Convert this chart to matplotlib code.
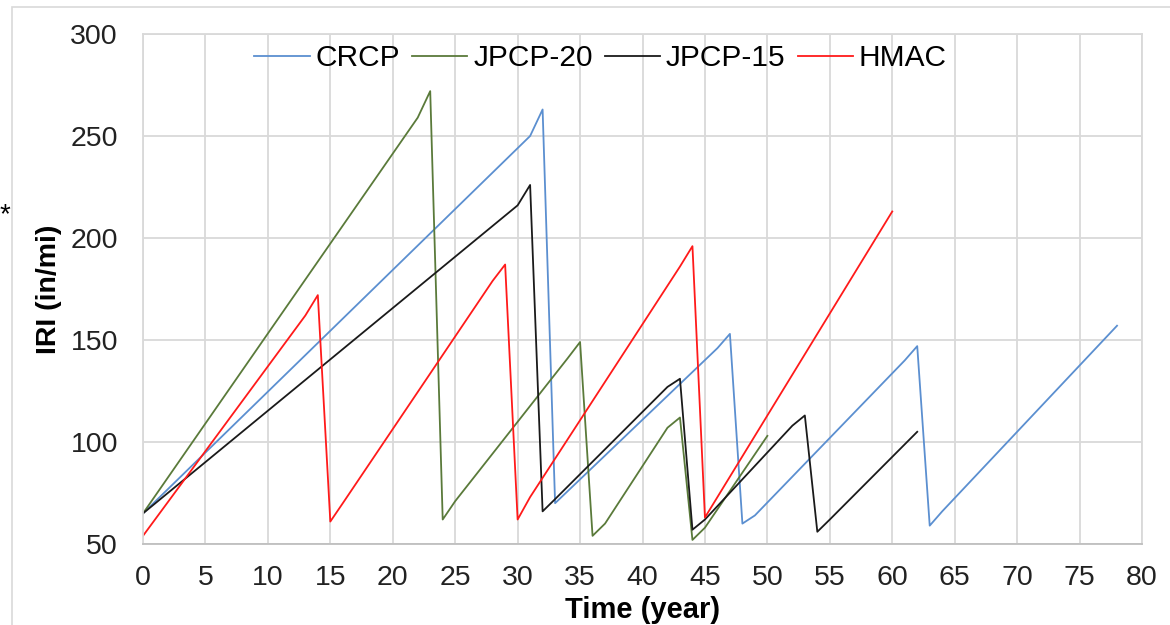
import matplotlib
matplotlib.use("Agg")
import matplotlib.pyplot as plt
from matplotlib.patches import Rectangle

plt.rcParams['font.family'] = ['Liberation Sans', 'DejaVu Sans']

# Data (year, IRI in/mi)
crcp_years = [0, 31, 32, 33, 46, 47, 48, 49, 61, 62, 63, 64, 78]
crcp_iri = [65, 250, 263, 70, 146, 153, 60, 64, 140, 147, 59, 66, 157]

jpcp20_years = [0, 22, 23, 24, 25, 34, 35, 36, 37, 42, 43, 44, 45, 50]
jpcp20_iri = [65, 259, 272, 62, 71, 141, 149, 54, 60, 107, 112, 52, 58, 103]

jpcp15_years = [0, 30, 31, 32, 33, 42, 43, 44, 45, 52, 53, 54, 55, 62]
jpcp15_iri = [65, 216, 226, 66, 72, 127, 131, 57, 62, 108, 113, 56, 62, 105]

hmac_years = [0, 13, 14, 15, 16, 28, 29, 30, 31, 43, 44, 45, 60]
hmac_iri = [54, 162, 172, 61, 70, 179, 187, 62, 73, 186, 196, 63, 213]

series_names = ['CRCP', 'JPCP-20', 'JPCP-15', 'HMAC']
series_colors = ['#5B8FD0', '#5A7A3A', '#1A1A1A', '#FF1A1A']

x_ticks = list(range(0, 81, 5))
y_ticks = [50, 100, 150, 200, 250, 300]

fig = plt.figure(figsize=(11.7, 6.25), dpi=100)
ax = fig.add_axes([143/1170, 1 - 544/625, (1142-143)/1170, (544-34)/625])

data = [(crcp_years, crcp_iri), (jpcp20_years, jpcp20_iri),
        (jpcp15_years, jpcp15_iri), (hmac_years, hmac_iri)]
for (xs, ys), name, col in zip(data, series_names, series_colors):
    ax.plot(xs, ys, color=col, lw=1.3, label=name, solid_joinstyle='round')

ax.set_xlim(0, 80)
ax.set_ylim(50, 300)
ax.set_xticks(x_ticks)
ax.set_yticks(y_ticks)
ax.grid(True, color='#D9D9D9', lw=1.3)
ax.set_axisbelow(True)
for s in ['top', 'right', 'left']:
    ax.spines[s].set_color('#D9D9D9')
    ax.spines[s].set_linewidth(1.3)
ax.spines['bottom'].set_color('#BFBFBF')
ax.spines['bottom'].set_linewidth(1.3)
ax.tick_params(axis='both', length=0, labelsize=20.5, colors='#222222')
ax.tick_params(axis='y', pad=18)
ax.tick_params(axis='x', pad=15)

ax.set_xlabel('Time (year)', fontsize=21, fontweight='bold', labelpad=4)
ax.set_ylabel('IRI (in/mi)', fontsize=20.5, fontweight='bold', labelpad=6)

leg = ax.legend(loc='center', bbox_to_anchor=(0.458, 0.953), ncol=4,
                frameon=False, fontsize=21.5, handlelength=1.85,
                handletextpad=0.2, columnspacing=0.4, borderaxespad=0)

fig.patches.append(Rectangle((12/1170, -0.05), 1.2, 1 - 7/625 + 0.05,
                             transform=fig.transFigure, fill=False,
                             edgecolor='#D9D9D9', lw=1.2))
fig.text(5/1170, 1 - 215/625, '*', fontsize=20, ha='center', va='center')

fig.savefig('out.png', dpi=100)
